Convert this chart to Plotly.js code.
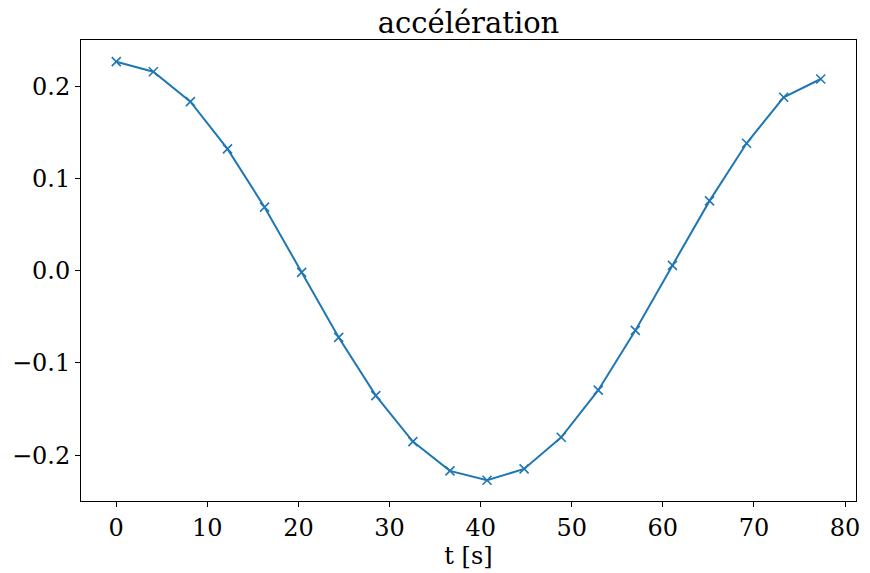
<!DOCTYPE html>
<html>
<head>
<meta charset="utf-8">
<script src="https://cdn.plot.ly/plotly-3.0.1.min.js"></script>
<style>html,body{margin:0;padding:0;background:#fff;}#chart{width:870px;height:573px;}</style>
</head>
<body>
<div id="chart"></div>
<script>
const t = [0, 4.07, 8.14, 12.21, 16.28, 20.35, 24.42, 28.49, 32.56, 36.63,
           40.70, 44.77, 48.84, 52.91, 56.98, 61.05, 65.12, 69.19, 73.26, 77.33];
const acceleration = [0.2268, 0.2159, 0.1834, 0.1322, 0.0690, -0.0018, -0.0723, -0.1354, -0.1853, -0.2170,
                      -0.2272, -0.2149, -0.1806, -0.1295, -0.0647, 0.0058, 0.0758, 0.1383, 0.1882, 0.2080];
const xTicks = [0, 10, 20, 30, 40, 50, 60, 70, 80];
const yTicks = [-0.2, -0.1, 0.0, 0.1, 0.2];
const titleText = 'accélération';
const xLabel = 't [s]';

const font = 'DejaVu Serif';
const trace = {
  x: t, y: acceleration, type: 'scatter', mode: 'lines+markers',
  line: {color: '#1f77b4', width: 2},
  marker: {symbol: 'x-thin', size: 9, color: '#1f77b4', line: {color: '#1f77b4', width: 1.6}},
  showlegend: false
};
const layout = {
  width: 870, height: 573,
  margin: {l: 80.5, r: 14, t: 40, b: 71.5},
  paper_bgcolor: '#fff', plot_bgcolor: '#fff',
  font: {family: font, color: '#000'},
  title: {text: titleText, font: {family: font, size: 29, color: '#000'},
          x: 0.5, xref: 'paper', xanchor: 'center', y: 1, yref: 'paper', yanchor: 'bottom', pad: {b: 7}},
  xaxis: {
    range: [-3.87, 81.2], tickvals: xTicks, ticktext: xTicks.map(String),
    showgrid: false, zeroline: false, showline: true, mirror: true, linecolor: '#000', linewidth: 1,
    ticks: 'outside', ticklen: 5, tickwidth: 1, tickcolor: '#000',
    tickfont: {family: font, size: 24, color: '#000'},
    title: {text: xLabel, font: {family: font, size: 24, color: '#000'}, standoff: 5}
  },
  yaxis: {
    range: [-0.2497, 0.2503], tickvals: yTicks, ticktext: yTicks.map(v => (v < 0 ? '\u2212' : '') + Math.abs(v).toFixed(1)),
    showgrid: false, zeroline: false, showline: true, mirror: true, linecolor: '#000', linewidth: 1,
    ticks: 'outside', ticklen: 5, tickwidth: 1, tickcolor: '#000',
    tickfont: {family: font, size: 24, color: '#000'}
  }
};
Plotly.newPlot('chart', [trace], layout, {displayModeBar: false, staticPlot: true});
</script>
</body>
</html>
